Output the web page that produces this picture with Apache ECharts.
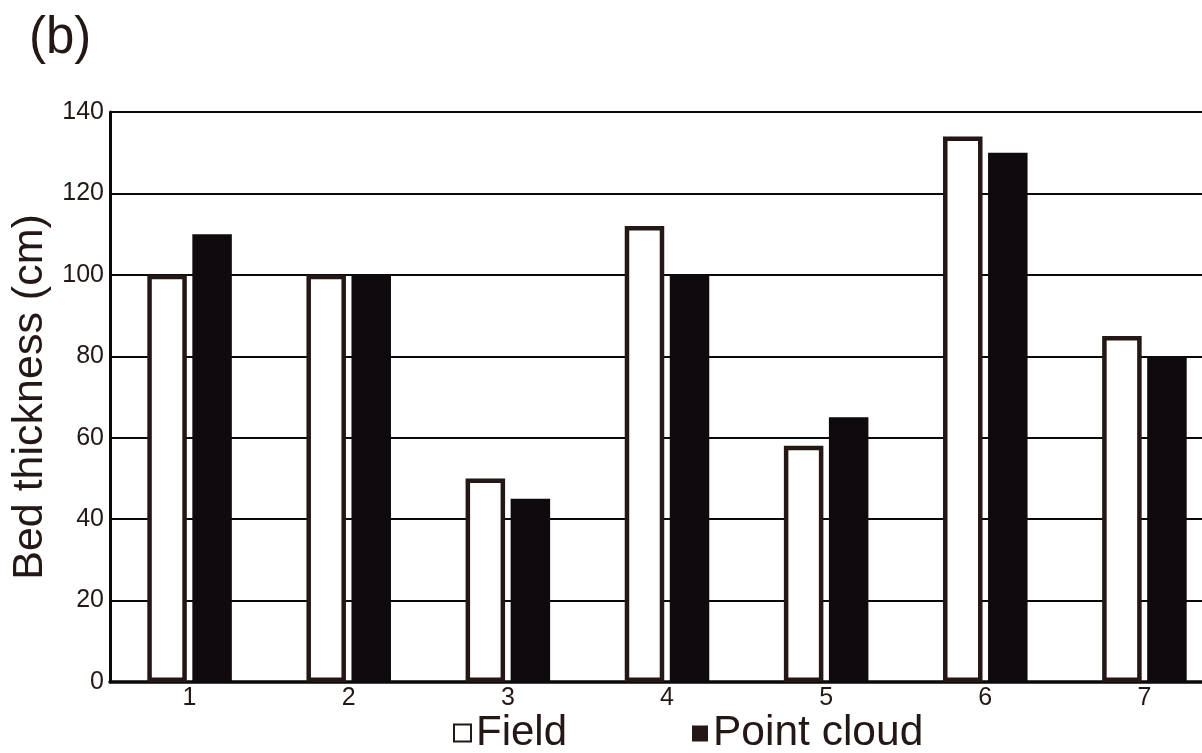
<!DOCTYPE html>
<html>
<head>
<meta charset="utf-8">
<script src="https://cdn.jsdelivr.net/npm/echarts@6/dist/echarts.min.js"></script>
<style>
  html, body { margin: 0; padding: 0; background: #ffffff; }
  #chart { width: 1202px; height: 753px; }
</style>
</head>
<body>
<div id="chart"></div>
<script>
// Bed numbers along the x axis
const categories = ['1', '2', '3', '4', '5', '6', '7'];
// Bed thickness measured in the field (cm)
const fieldValues = [100, 100, 50, 112, 58, 134, 85];
// Bed thickness derived from the point cloud (cm)
const pointCloudValues = [110, 100, 45, 100, 65, 130, 80];
// Y axis range and tick step (cm)
const yMin = 0;
const yMax = 140;
const yStep = 20;

const FONT = '"Liberation Sans", Arial, sans-serif';
const INK = '#231815';
const FILL = '#0e0a0d';

const chart = echarts.init(document.getElementById('chart'), null, { renderer: 'canvas' });

chart.setOption({
  backgroundColor: '#ffffff',
  animation: false,
  title: {
    text: '(b)',
    left: 24,
    top: 8,
    textStyle: { fontFamily: FONT, fontSize: 51, fontWeight: 'normal', color: INK }
  },
  legend: [
    {
      data: [{ name: 'Field', itemStyle: { color: '#ffffff', borderColor: INK, borderWidth: 2 } }],
      left: 448,
      top: 707,
      icon: 'rect',
      itemWidth: 17,
      itemHeight: 17,
      itemGap: 0,
      textStyle: { fontFamily: FONT, fontSize: 42, color: INK }
    },
    {
      data: [{ name: 'Point cloud', itemStyle: { color: INK, borderWidth: 0 } }],
      left: 687,
      top: 707,
      icon: 'rect',
      itemWidth: 16,
      itemHeight: 16,
      itemGap: 0,
      textStyle: { fontFamily: FONT, fontSize: 42.5, color: INK }
    }
  ],
  grid: {
    left: 110,
    top: 112,
    bottom: 71,
    width: 1114,
    containLabel: false,
    outerBoundsMode: 'none'
  },
  xAxis: {
    type: 'category',
    data: categories,
    boundaryGap: true,
    axisLine: { show: true, lineStyle: { color: '#0a0a0a', width: 3.5 } },
    axisTick: { show: false },
    axisLabel: { fontFamily: FONT, fontSize: 25, color: INK, margin: 4 },
    splitLine: { show: false }
  },
  yAxis: {
    type: 'value',
    min: yMin,
    max: yMax,
    interval: yStep,
    name: 'Bed thickness (cm)',
    nameLocation: 'middle',
    nameRotate: 90,
    nameGap: 47,
    nameTextStyle: { fontFamily: FONT, fontSize: 43, color: INK },
    axisLine: { show: true, lineStyle: { color: '#0a0a0a', width: 3 } },
    axisTick: { show: false },
    axisLabel: { fontFamily: FONT, fontSize: 25, color: INK, margin: 6, padding: [0, 0, 5, 0] },
    splitLine: { show: true, lineStyle: { color: '#0a0a0a', width: 2 } }
  },
  series: [
    {
      name: 'Field',
      type: 'bar',
      data: fieldValues,
      barWidth: 39.5,
      barGap: '14%',
      itemStyle: { color: '#ffffff', borderColor: INK, borderWidth: 4.5 }
    },
    {
      name: 'Point cloud',
      type: 'bar',
      data: pointCloudValues,
      barWidth: 39.5,
      barGap: '14%',
      itemStyle: { color: FILL, borderColor: FILL, borderWidth: 4.5 }
    }
  ]
});
</script>
</body>
</html>
